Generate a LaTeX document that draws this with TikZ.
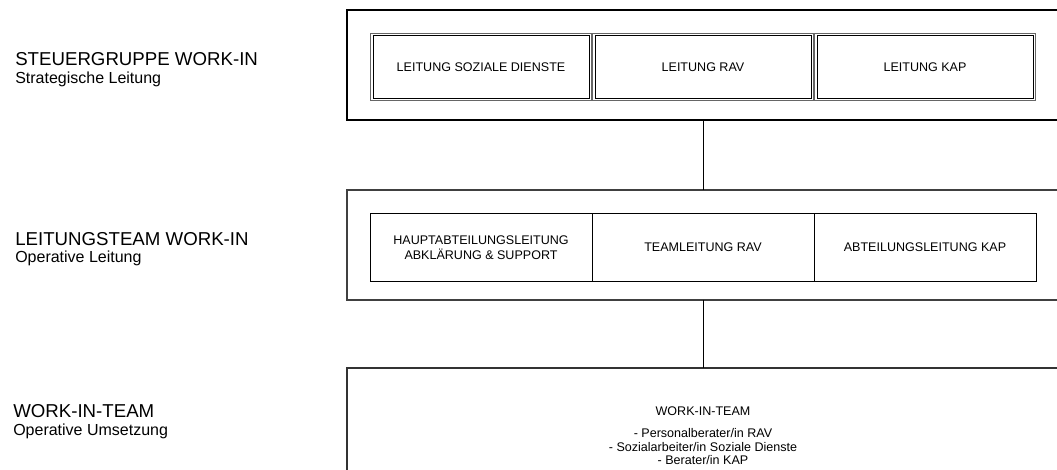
\documentclass[tikz,border=0pt]{standalone}
\usepackage{fontspec}
\setmainfont{Liberation Sans}
\usepackage{tikz}
\usetikzlibrary{positioning,calc}

\begin{document}
\begin{tikzpicture}[x=0.75pt,y=-0.75pt,
  frame/.style={draw,rectangle,outer sep=0pt,anchor=north west,minimum width=570pt},
  headline/.style={anchor=base west,inner sep=0pt,font=\fontsize{14}{16}\selectfont},
  subline/.style={anchor=base west,inner sep=0pt,font=\fontsize{12}{14}\selectfont},
  cellA/.style={draw=black!60,line width=0.6pt,outer sep=0pt,
    minimum width=165.5pt,minimum height=50.5pt,align=center,font=\fontsize{9.4}{11}\selectfont},
  cellB/.style={draw,line width=0.6pt,outer sep=0pt,
    minimum width=166.5pt,minimum height=51.5pt,align=center,font=\fontsize{9.4}{11}\selectfont}]
\useasboundingbox (0,0) rectangle (1057,470);
\clip (0,0) rectangle (1057,470);

% left labels
\node (lab1) at (15,66) [headline] {STEUERGRUPPE WORK-IN};
\node (sub1) at (15,84) [subline] {Strategische Leitung};
\node (lab2) at (15,246) [headline] {LEITUNGSTEAM WORK-IN};
\node (sub2) at (15,263) [subline] {Operative Leitung};
\node (lab3) at (13,417) [headline] {WORK-IN-TEAM};
\node (sub3) at (13,435) [subline] {Operative Umsetzung};

% frames
\node (steuer) at (347,10) [frame,line width=1.5pt,minimum height=82.5pt] {};
\node (team) at (347,190) [frame,draw=black!75,line width=0.9pt,minimum height=82.5pt] {};
\node (wit) at (347,368) [frame,draw=black!80,line width=0.9pt,minimum height=120pt] {};

% top row (double lined)
\node (sd1) at (481,67) [cellA] {LEITUNG SOZIALE DIENSTE};
\node (rav1) at (703,67) [cellA] {LEITUNG RAV};
\node (kap1) at (925,67) [cellA] {LEITUNG KAP};
\foreach \c in {sd1,rav1,kap1}
  \draw[line width=0.6pt] ([xshift=1.8pt,yshift=-1.8pt]\c.north west) rectangle ([xshift=-1.8pt,yshift=1.8pt]\c.south east);

% middle row
\node (sd2) at (481,247.5) [cellB] {HAUPTABTEILUNGSLEITUNG\\ABKLÄRUNG \& SUPPORT};
\node (rav2) at (703,247.5) [cellB] {TEAMLEITUNG RAV};
\node (kap2) at (925,247.5) [cellB] {ABTEILUNGSLEITUNG KAP};

% bottom text
\node (witlist) at (703,406) [anchor=north,align=center,inner sep=0pt,
  font=\fontsize{9.4}{10.1}\selectfont]
  {WORK-IN-TEAM\\[7pt]- Personalberater/in RAV\\- Sozialarbeiter/in Soziale Dienste\\- Berater/in KAP};

\draw (steuer.south -| rav1) -- (team.north -| rav1);
\draw (team.south -| rav2) -- (wit.north -| rav2);

\end{tikzpicture}
\end{document}
